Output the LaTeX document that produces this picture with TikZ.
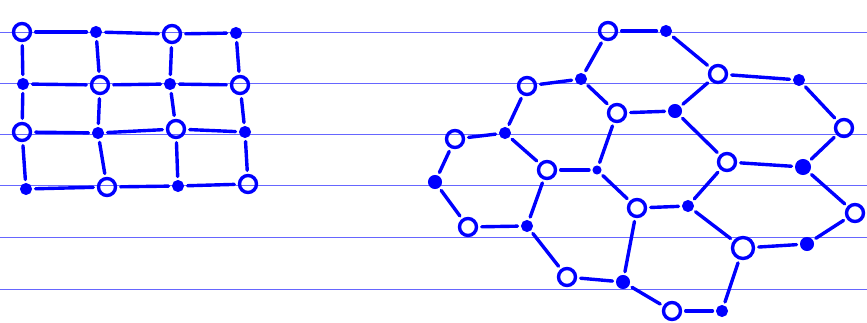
\documentclass[tikz,border=0pt]{standalone}
\usepackage{tikz}
\usetikzlibrary{positioning}

\begin{document}
\begin{tikzpicture}[
  x=1pt, y=-1pt,
  hol/.style={draw=blue, circle, line width=3.4pt, minimum size=17pt, inner sep=0pt},
  fil/.style={fill=blue, draw=blue, circle, line width=1pt, minimum size=11pt, inner sep=0pt},
  bond/.style={draw=blue, line width=3.4pt, line cap=round, shorten <=3.5pt, shorten >=3.5pt},
  rule/.style={draw=blue!60, line width=1pt}
]
  % paper
  \useasboundingbox[fill=white] (0,0) rectangle (867,323);
  \foreach \ry in {33,84,135,186,237,289}
    \draw[rule] (0,\ry) -- (867,\ry);

  % square lattice (left)
  \node[hol] (g11) at (22,32) {};
  \node[fil] (g12) at (96,32) {};
  \node[hol] (g13) at (172,34) {};
  \node[fil] (g14) at (236,33) {};
  \node[fil] (g21) at (23,84) {};
  \node[hol] (g22) at (100,85) {};
  \node[fil] (g23) at (170,84) {};
  \node[hol] (g24) at (240,85) {};
  \node[hol] (g31) at (22,132) {};
  \node[fil] (g32) at (98,133) {};
  \node[hol] (g33) at (176,129) {};
  \node[fil] (g34) at (245,132) {};
  \node[fil] (g41) at (26,189) {};
  \node[hol] (g42) at (107,187) {};
  \node[fil] (g43) at (178,186) {};
  \node[hol] (g44) at (248,184) {};

  \draw[bond] (g11) -- (g12);
  \draw[bond] (g12) -- (g13);
  \draw[bond] (g13) -- (g14);
  \draw[bond] (g21) -- (g22);
  \draw[bond] (g22) -- (g23);
  \draw[bond] (g23) -- (g24);
  \draw[bond] (g31) -- (g32);
  \draw[bond] (g32) -- (g33);
  \draw[bond] (g33) -- (g34);
  \draw[bond] (g41) -- (g42);
  \draw[bond] (g42) -- (g43);
  \draw[bond] (g43) -- (g44);
  \draw[bond] (g11) -- (g21);
  \draw[bond] (g21) -- (g31);
  \draw[bond] (g31) -- (g41);
  \draw[bond] (g12) -- (g22);
  \draw[bond] (g22) -- (g32);
  \draw[bond] (g32) -- (g42);
  \draw[bond] (g13) -- (g23);
  \draw[bond] (g23) -- (g33);
  \draw[bond] (g33) -- (g43);
  \draw[bond] (g14) -- (g24);
  \draw[bond] (g24) -- (g34);
  \draw[bond] (g34) -- (g44);

  % honeycomb lattice (right)
  \node[hol] (h1)  at (608,31)  {};
  \node[fil] (h2)  at (666,31)  {};
  \node[hol] (h3)  at (718,74)  {};
  \node[fil] (h4)  at (799,80)  {};
  \node[hol] (h5)  at (844,128) {};
  \node[fil, minimum size=15pt] (h6) at (803,167) {};
  \node[hol] (h7)  at (855,213) {};
  \node[fil, minimum size=13pt] (h8) at (807,244) {};
  \node[hol, minimum size=21pt] (h9) at (743,248) {};
  \node[fil] (h10) at (722,311) {};
  \node[hol] (h11) at (672,311) {};
  \node[fil, minimum size=13pt] (h12) at (623,282) {};
  \node[hol] (h13) at (567,277) {};
  \node[fil] (h14) at (527,226) {};
  \node[hol] (h15) at (468,227) {};
  \node[fil, minimum size=13pt] (h16) at (435,182) {};
  \node[hol] (h17) at (455,139) {};
  \node[fil] (h18) at (505,133) {};
  \node[hol] (h19) at (527,86)  {};
  \node[fil] (h20) at (581,79)  {};
  \node[hol] (h21) at (617,113) {};
  \node[fil, minimum size=13pt] (h22) at (675,111) {};
  \node[hol] (h23) at (727,162) {};
  \node[hol] (h24) at (547,170) {};
  \node[fil, minimum size=8pt] (h25) at (597,170) {};
  \node[hol] (h26) at (637,208) {};
  \node[fil] (h27) at (688,206) {};

  \draw[bond] (h1) -- (h2);
  \draw[bond] (h2) -- (h3);
  \draw[bond] (h1) -- (h20);
  \draw[bond] (h20) -- (h21);
  \draw[bond] (h21) -- (h22);
  \draw[bond] (h22) -- (h3);
  \draw[bond] (h3) -- (h4);
  \draw[bond] (h4) -- (h5);
  \draw[bond] (h5) -- (h6);
  \draw[bond] (h6) -- (h23);
  \draw[bond] (h23) -- (h22);
  \draw[bond] (h20) -- (h19);
  \draw[bond] (h19) -- (h18);
  \draw[bond] (h18) -- (h24);
  \draw[bond] (h24) -- (h25);
  \draw[bond] (h25) -- (h21);
  \draw[bond] (h18) -- (h17);
  \draw[bond] (h17) -- (h16);
  \draw[bond] (h16) -- (h15);
  \draw[bond] (h15) -- (h14);
  \draw[bond] (h14) -- (h24);
  \draw[bond] (h25) -- (h26);
  \draw[bond] (h26) -- (h27);
  \draw[bond] (h27) -- (h23);
  \draw[bond] (h26) -- (h12);
  \draw[bond] (h14) -- (h13);
  \draw[bond] (h13) -- (h12);
  \draw[bond] (h27) -- (h9);
  \draw[bond] (h9) -- (h8);
  \draw[bond] (h8) -- (h7);
  \draw[bond] (h7) -- (h6);
  \draw[bond] (h9) -- (h10);
  \draw[bond] (h10) -- (h11);
  \draw[bond] (h11) -- (h12);
\end{tikzpicture}
\end{document}
